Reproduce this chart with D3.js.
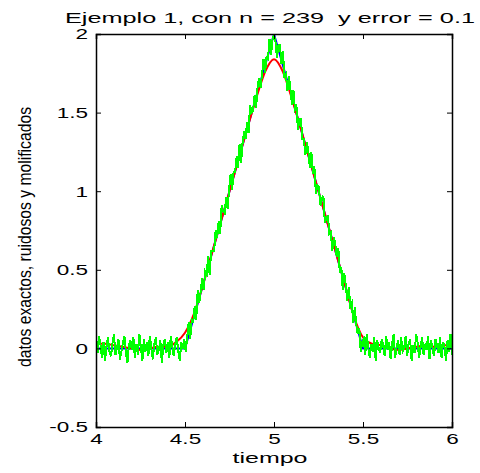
<!DOCTYPE html>
<html>
<head>
<meta charset="utf-8">
<script src="https://cdn.jsdelivr.net/npm/d3@7"></script>
<style>
  body { margin: 0; background: #fff; }
  text { font-family: "Liberation Sans", Arial, sans-serif; fill: #000; }
</style>
</head>
<body>
<svg width="480" height="473"></svg>
<script>
// tick labels
const X_TICKS = [4, 4.5, 5, 5.5, 6]
const Y_TICKS = [-0.5, 0, 0.5, 1, 1.5, 2]

// exact data (blue)
const EXACT_X = [4, 4.5, 5, 5.5, 6]
const EXACT_Y = [0, 0, 2, 0, 0]

// mollified data (red)
const MOLL_X = [4.00, 4.05, 4.10, 4.15, 4.20, 4.25, 4.30, 4.35, 4.40, 4.45,
  4.50, 4.55, 4.60, 4.65, 4.70, 4.75, 4.80, 4.85, 4.90, 4.95,
  5.00, 5.05, 5.10, 5.15, 5.20, 5.25, 5.30, 5.35, 5.40, 5.45,
  5.50, 5.55, 5.60, 5.65, 5.70, 5.75, 5.80, 5.85, 5.90, 5.95, 6.00]
const MOLL_Y = [0.03, 0.03, 0.02, 0.01, 0.00, -0.01, 0.00, 0.01, 0.01, 0.04,
  0.10, 0.22, 0.40, 0.60, 0.80, 1.00, 1.20, 1.40, 1.59, 1.76,
  1.84, 1.76, 1.59, 1.40, 1.20, 1.00, 0.80, 0.60, 0.40, 0.20,
  0.07, 0.03, 0.02, 0.00, -0.01, 0.00, 0.01, 0.02, 0.01, 0.02, 0.02]

// noisy data (green), n = 239 samples evenly spaced from 4 to 6
const N_POINTS = 239
const NOISY_Y = [
  0.05, -0.03, 0.08, 0.02, -0.06, 0.04, -0.08, 0.01, 0.07, -0.02,
  -0.05, 0.03, 0.09, -0.04, 0.00, 0.06, -0.07, -0.02, 0.04, 0.08,
  -0.03, -0.09, 0.02, 0.05, -0.01, 0.07, -0.06, 0.03, -0.04, 0.09,
  0.01, -0.08, 0.06, -0.02, 0.04, -0.05, 0.08, 0.00, -0.07, 0.03,
  0.07, -0.04, -0.01, 0.05, -0.09, 0.02, 0.06, -0.03, 0.04, -0.06,
  0.08, 0.01, -0.05, 0.03, 0.07, -0.02, -0.08, 0.04, 0.00, 0.06,
  -0.02, 0.07, 0.17, 0.06, 0.18, 0.17, 0.27, 0.18, 0.37, 0.29,
  0.36, 0.45, 0.37, 0.49, 0.47, 0.59, 0.47, 0.62, 0.62, 0.62,
  0.75, 0.70, 0.81, 0.73, 0.91, 0.87, 0.86, 0.96, 0.89, 1.01,
  1.11, 1.01, 1.12, 1.12, 1.22, 1.15, 1.30, 1.18, 1.31, 1.38,
  1.33, 1.44, 1.37, 1.55, 1.50, 1.51, 1.61, 1.53, 1.66, 1.72,
  1.66, 1.74, 1.84, 1.75, 1.85, 1.84, 1.97, 1.87, 1.96, 2.00,
  1.95, 1.85, 1.93, 1.93, 1.81, 1.89, 1.72, 1.74, 1.64, 1.73,
  1.65, 1.55, 1.64, 1.52, 1.54, 1.39, 1.46, 1.46, 1.33, 1.33,
  1.23, 1.31, 1.25, 1.15, 1.25, 1.11, 1.16, 0.98, 1.04, 1.03,
  0.91, 0.95, 0.97, 0.80, 0.82, 0.85, 0.73, 0.74, 0.62, 0.71,
  0.66, 0.58, 0.64, 0.48, 0.52, 0.37, 0.48, 0.40, 0.30, 0.39,
  0.27, 0.29, 0.16, 0.26, 0.15, 0.09, 0.13, -0.02, 0.04, 0.06,
  -0.04, 0.09, 0.01, -0.06, 0.03, -0.02, 0.07, -0.08, 0.05, 0.00,
  -0.03, 0.06, 0.02, -0.05, 0.08, -0.01, 0.04, -0.07, 0.03, 0.09,
  -0.06, 0.01, 0.05, -0.04, 0.07, -0.02, 0.00, 0.08, -0.05, 0.03,
  0.06, -0.08, 0.02, -0.03, 0.09, 0.04, -0.06, 0.01, 0.07, -0.04,
  0.03, -0.01, 0.08, -0.07, 0.05, 0.00, -0.05, 0.06, 0.02, -0.03,
  0.07, -0.06, 0.04, 0.01, -0.08, 0.05, -0.02, 0.09, -0.04
]

const TITLE = 'Ejemplo 1, con n = 239  y error = 0.1'
const X_LABEL = 'tiempo'
const Y_LABEL = 'datos exactos, ruidosos y molificados'

const margin = { left: 96, right: 28, top: 34, bottom: 46 }
const W = 480, H = 473
const svg = d3.select('svg')

const xScale = d3.scaleLinear().domain([4, 6]).range([margin.left, W - margin.right])
const yScale = d3.scaleLinear().domain([-0.5, 2]).range([H - margin.bottom, margin.top])

svg.append('defs').append('clipPath').attr('id', 'plotclip')
  .append('rect')
  .attr('x', margin.left).attr('y', margin.top)
  .attr('width', xScale(6) - xScale(4)).attr('height', yScale(-0.5) - yScale(2))

const line = d3.line().x(d => xScale(d[0])).y(d => yScale(d[1]))
const plot = svg.append('g').attr('clip-path', 'url(#plotclip)')

const noisyX = d3.range(N_POINTS).map(i => 4 + i * 2 / (N_POINTS - 1))

plot.append('path')
  .datum(EXACT_X.map((x, i) => [x, EXACT_Y[i]]))
  .attr('d', line).attr('fill', 'none').attr('stroke', '#0000ff').attr('stroke-width', 2)
plot.append('path')
  .datum(MOLL_X.map((x, i) => [x, MOLL_Y[i]]))
  .attr('d', d3.line().x(d => xScale(d[0])).y(d => yScale(d[1])).curve(d3.curveMonotoneX))
  .attr('fill', 'none').attr('stroke', '#ff0000').attr('stroke-width', 2)
plot.append('path')
  .datum(noisyX.map((x, i) => [x, NOISY_Y[i]]))
  .attr('d', line).attr('fill', 'none').attr('stroke', '#00ff00').attr('stroke-width', 2)
  .attr('shape-rendering', 'crispEdges')

// axes: ticks inward on all four sides, labels only bottom/left
const tickLen = 5
const fmt = d => String(d)
const xb = svg.append('g').attr('transform', `translate(0,${yScale(-0.5)})`)
  .call(d3.axisBottom(xScale).tickValues(X_TICKS).tickSize(-tickLen).tickPadding(6).tickFormat(fmt))
const xt = svg.append('g').attr('transform', `translate(0,${yScale(2)})`)
  .call(d3.axisTop(xScale).tickValues(X_TICKS).tickSize(-tickLen).tickFormat(''))
const yl = svg.append('g').attr('transform', `translate(${xScale(4)},0)`)
  .call(d3.axisLeft(yScale).tickValues(Y_TICKS).tickSize(-tickLen).tickPadding(8).tickFormat(fmt))
const yr = svg.append('g').attr('transform', `translate(${xScale(6)},0)`)
  .call(d3.axisRight(yScale).tickValues(Y_TICKS).tickSize(-tickLen).tickFormat(''))

;[xb, xt, yl, yr].forEach(g => {
  g.select('.domain').attr('stroke', '#000').attr('stroke-width', 1.5)
  g.selectAll('.tick line').attr('stroke', '#000')
  g.selectAll('text').style('font-size', '15px').attr('fill', '#000')
})
xt.selectAll('.tick:first-of-type, .tick:last-of-type').remove()
yr.selectAll('.tick:first-of-type, .tick:last-of-type').remove()

// MATLAB-like wide glyphs: stretch tick labels horizontally
const stretch = 1.5
;[xb, yl].forEach(g => g.selectAll('.tick text').each(function () {
  const w = this.getComputedTextLength()
  d3.select(this).attr('textLength', w * stretch).attr('lengthAdjust', 'spacingAndGlyphs')
}))

svg.append('text').attr('x', 270).attr('y', 23).attr('text-anchor', 'middle')
  .style('font-size', '15px').style('white-space', 'pre')
  .attr('textLength', 410).attr('lengthAdjust', 'spacingAndGlyphs')
  .text(TITLE)
svg.append('text').attr('x', 270).attr('y', 463).attr('text-anchor', 'middle')
  .style('font-size', '15px').attr('textLength', 75).attr('lengthAdjust', 'spacingAndGlyphs')
  .text(X_LABEL)
svg.append('text').attr('transform', 'translate(31,237) rotate(-90)').attr('text-anchor', 'middle')
  .style('font-size', '18px').attr('textLength', 260).attr('lengthAdjust', 'spacingAndGlyphs')
  .text(Y_LABEL)
</script>
</body>
</html>
